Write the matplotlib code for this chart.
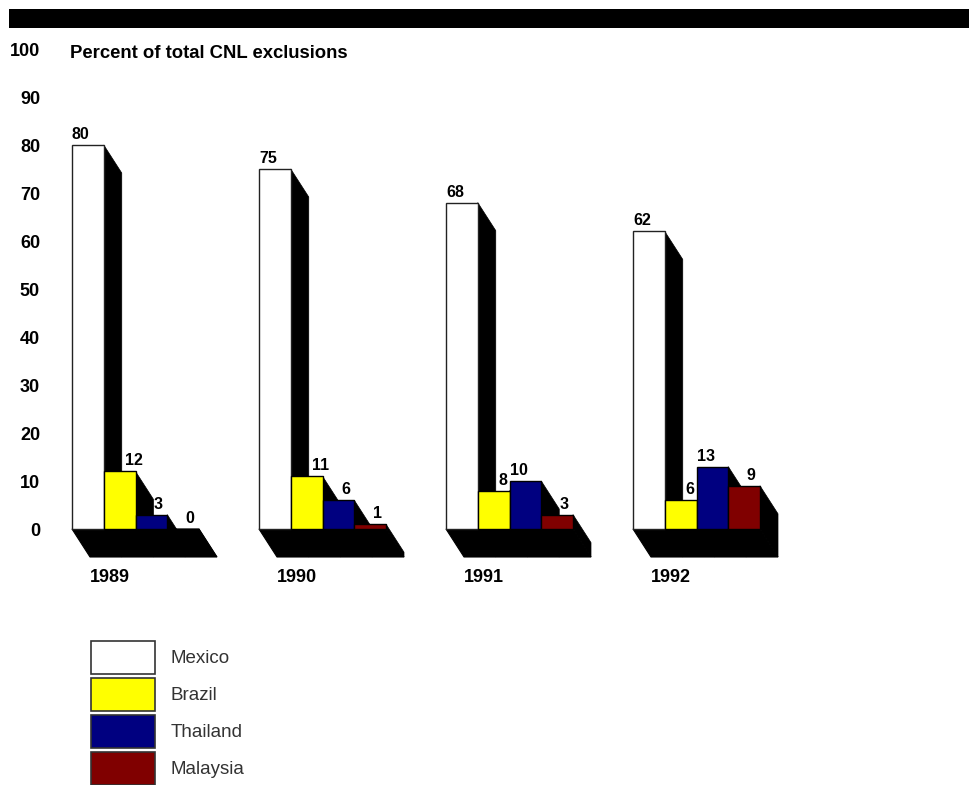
import matplotlib
matplotlib.use("Agg")
import matplotlib.pyplot as plt
from matplotlib.patches import Polygon, Rectangle, Patch

# ---- data ----
years = ["1989", "1990", "1991", "1992"]
countries = ["Mexico", "Brazil", "Thailand", "Malaysia"]
mexico = [80, 75, 68, 62]
brazil = [12, 11, 8, 6]
thailand = [3, 6, 10, 13]
malaysia = [0, 1, 3, 9]
yticks = [0, 10, 20, 30, 40, 50, 60, 70, 80, 90, 100]
title = "Percent of total CNL exclusions"

series = [mexico, brazil, thailand, malaysia]
colors = ["#ffffff", "#ffff00", "#000080", "#800000"]

# ---- layout (pixels) ----
W, H = 975, 785
DPI = 100
px_per_group = 187.0     # horizontal distance between groups
px_per_unit = 4.8        # vertical pixels per percent
origin_x, origin_y = 72.0, 529.0
ax_left_px = 46.0
bar_w = 31.75 / px_per_group
depth_dx = 18.0 / px_per_group
depth_dy = -28.0 / px_per_unit

plt.rcParams["font.family"] = ["Liberation Sans", "DejaVu Sans"]

fig = plt.figure(figsize=(W / DPI, H / DPI), dpi=DPI)
ax = fig.add_axes([ax_left_px / W, 0, 1 - ax_left_px / W, 1])
ax.set_xlim((ax_left_px - origin_x) / px_per_group, (W - origin_x) / px_per_group)
ax.set_ylim(-(H - origin_y) / px_per_unit, origin_y / px_per_unit)
for s in ax.spines.values():
    s.set_visible(False)
ax.set_xticks([])
ax.set_yticks(yticks)
ax.set_yticklabels([str(v) for v in yticks], fontsize=13, fontweight="bold")
ax.tick_params(axis="y", length=0, pad=4.3)

px_x = 1.0 / px_per_group
px_y = 1.0 / px_per_unit

for g, year in enumerate(years):
    x0 = g
    x_end = g + len(series) * bar_w
    # floor slab
    ax.add_patch(Polygon([(x0, 0), (x_end, 0), (x_end + depth_dx, depth_dy),
                          (x0 + depth_dx, depth_dy)], closed=True,
                         facecolor="black", edgecolor="black", lw=0.8, zorder=1))
    for i, vals in enumerate(series):
        h = vals[g]
        xl = x0 + i * bar_w
        xr = xl + bar_w
        # side shadow of the bar
        ax.add_patch(Polygon([(xr, h), (xr + depth_dx, h + depth_dy),
                              (xr + depth_dx, depth_dy), (xr, 0)], closed=True,
                             facecolor="black", edgecolor="black", lw=0.5,
                             zorder=2 + 2 * i))
        ax.bar(xl, h, width=bar_w, align="edge", color=colors[i],
               edgecolor="#222222" if i == 0 else "black", linewidth=1.0,
               zorder=3 + 2 * i)
        # value label, nudged away from neighbouring taller bars
        prev = series[i - 1][g] if i > 0 else None
        nxt = series[i + 1][g] if i + 1 < len(series) else None
        if prev is None:
            lx, ha = xl, "left"
        elif i == 1:
            shift = 14 if (nxt is None or nxt < h) else 9
            lx, ha = xl + bar_w / 2 + shift * px_x, "center"
        elif prev > h:
            lx, ha = xl + bar_w / 2 + 7 * px_x, "center"
        else:
            lx, ha = xl + bar_w / 2 - 6 * px_x, "center"
        ax.text(lx, h + 3 * px_y, str(h), ha=ha, va="bottom", fontsize=11.5,
                fontweight="bold", zorder=20)
    ax.text(x0 + 38 * px_x, -48 * px_y, year, ha="center", va="center",
            fontsize=13, fontweight="bold")

# heading band and title
fig.add_artist(Rectangle((9 / W, 1 - 28 / H), 960 / W, 19 / H,
                         transform=fig.transFigure, facecolor="black",
                         edgecolor="none"))
fig.text(70 / W, 1 - 53 / H, title, ha="left", va="center", fontsize=13.3,
         fontweight="bold")

# legend
handles = [Patch(facecolor=c, edgecolor="#333333", linewidth=1.2) for c in colors]
fig.legend(handles, countries, loc="upper left",
           bbox_to_anchor=(91 / W, 1 - 641 / H), frameon=False, fontsize=13.5,
           handlelength=3.84 * 12 / 13.5, handleheight=2.58 * 12 / 13.5,
           labelspacing=0.27 * 12 / 13.5, handletextpad=0.96 * 12 / 13.5,
           borderpad=0, borderaxespad=0, labelcolor="#333333")

fig.savefig("out.png", dpi=DPI)
